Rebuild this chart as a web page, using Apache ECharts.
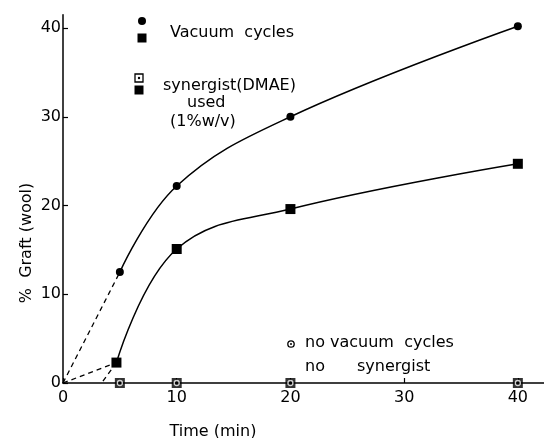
<!DOCTYPE html>
<html><head><meta charset="utf-8">
<script src="https://cdn.jsdelivr.net/npm/echarts@6/dist/echarts.min.js"></script>
<style>html,body{margin:0;padding:0;background:#fff}#c{width:544px;height:438px}</style>
</head><body><div id="c"></div>
<script>
// ---- data ----
const timeVac = [5, 10, 20, 40];
const graftVac = [12.5, 22.2, 30.0, 40.2];
const timeSyn = [4.7, 10, 20, 40];
const graftSyn = [2.3, 15.1, 19.6, 24.7];
const timeNone = [5, 10, 20, 40];
const graftNone = [0, 0, 0, 0];
// dashed extrapolation segments
const extrapVac = [[0, 0], [5, 12.5]];
const extrapSyn = [[0, 0], [4.7, 2.3]];
const extrapSynInd = [[4.7, 2.3], [3.4, 0]];
const xTicks = [0, 10, 20, 30, 40];
const yTicks = [0, 10, 20, 30, 40];

const zip = (a, b) => a.map((v, i) => [v, b[i]]);
const FONT = '"DejaVu Sans", sans-serif';
const chart = echarts.init(document.getElementById('c'), null, {renderer: 'canvas'});

const dashed = (d) => ({
  type: 'line', data: d, symbol: 'none', silent: true,
  lineStyle: {color: '#000', width: 1.3, type: [5, 4]}, z: 1
});

chart.setOption({
  animation: false,
  backgroundColor: '#fff',
  grid: {left: 63, right: 0, top: 14.7, bottom: 55},
  xAxis: {
    type: 'value', min: 0, max: 42.3, interval: 10,
    axisLine: {lineStyle: {color: '#000', width: 1.5}},
    axisTick: {inside: true, length: 5, lineStyle: {color: '#000', width: 1.2},
      customValues: xTicks},
    axisLabel: {color: '#000', fontFamily: FONT, fontSize: 16, margin: 7,
      customValues: xTicks,
      formatter: v => xTicks.includes(v) ? String(v) : ''},
    splitLine: {show: false}
  },
  yAxis: {
    type: 'value', min: 0, max: 41.5, interval: 10,
    axisLine: {lineStyle: {color: '#000', width: 1.5}},
    axisTick: {inside: true, length: 5, lineStyle: {color: '#000', width: 1.2},
      customValues: yTicks},
    axisLabel: {color: '#000', fontFamily: FONT, fontSize: 16, margin: 2,
      customValues: yTicks,
      formatter: v => yTicks.includes(v) ? String(v) : ''},
    splitLine: {show: false}
  },
  series: [
    dashed(extrapVac), dashed(extrapSyn), dashed(extrapSynInd),
    {type: 'line', data: zip(timeVac, graftVac), smooth: 0.4,
      symbol: 'circle', symbolSize: 8,
      itemStyle: {color: '#000'}, lineStyle: {color: '#000', width: 1.5}, z: 3},
    {type: 'line', data: zip(timeSyn, graftSyn), smooth: 0.4,
      symbol: 'rect', symbolSize: 10,
      itemStyle: {color: '#000'}, lineStyle: {color: '#000', width: 1.5}, z: 3},
    {type: 'scatter', data: zip(timeNone, graftNone), symbol: 'rect', symbolSize: 10,
      itemStyle: {color: '#000'}, z: 4},
    {type: 'scatter', data: zip(timeNone, graftNone), symbol: 'circle', symbolSize: 5,
      itemStyle: {color: '#000', borderColor: '#fff', borderWidth: 1.3}, z: 5}
  ],
  graphic: [
    {type: 'circle', shape: {cx: 142, cy: 21, r: 4}, style: {fill: '#000'}},
    {type: 'rect', shape: {x: 137.5, y: 33.5, width: 9, height: 9}, style: {fill: '#000'}},
    {type: 'text', x: 170, y: 33, style: {text: 'Vacuum  cycles', font: '16px ' + FONT, fill: '#000', verticalAlign: 'middle'}},
    {type: 'rect', shape: {x: 135, y: 74, width: 8, height: 8}, style: {fill: '#fff', stroke: '#000', lineWidth: 1.3}},
    {type: 'circle', shape: {cx: 139, cy: 78, r: 1.2}, style: {fill: '#000'}},
    {type: 'rect', shape: {x: 134.5, y: 85.5, width: 9, height: 9}, style: {fill: '#000'}},
    {type: 'text', x: 163, y: 86, style: {text: 'synergist(DMAE)', font: '16px ' + FONT, fill: '#000', verticalAlign: 'middle'}},
    {type: 'text', x: 187, y: 103, style: {text: 'used', font: '16px ' + FONT, fill: '#000', verticalAlign: 'middle'}},
    {type: 'text', x: 170, y: 122, style: {text: '(1%w/v)', font: '16px ' + FONT, fill: '#000', verticalAlign: 'middle'}},
    {type: 'circle', shape: {cx: 291, cy: 344, r: 3.2}, style: {fill: 'none', stroke: '#000', lineWidth: 1.3}},
    {type: 'circle', shape: {cx: 291, cy: 344, r: 1}, style: {fill: '#000'}},
    {type: 'text', x: 305, y: 343, style: {text: 'no vacuum  cycles', font: '16px ' + FONT, fill: '#000', verticalAlign: 'middle'}},
    {type: 'text', x: 305, y: 367, style: {text: 'no', font: '16px ' + FONT, fill: '#000', verticalAlign: 'middle'}},
    {type: 'text', x: 357, y: 367, style: {text: 'synergist', font: '16px ' + FONT, fill: '#000', verticalAlign: 'middle'}},
    {type: 'text', x: 213, y: 432, style: {text: 'Time (min)', font: '16px ' + FONT, fill: '#000', align: 'center', verticalAlign: 'middle'}},
    {type: 'text', x: 27, y: 243, rotation: Math.PI / 2,
      style: {text: '%  Graft (wool)', font: '16px ' + FONT, fill: '#000', align: 'center', verticalAlign: 'middle'}}
  ]
});
</script></body></html>
